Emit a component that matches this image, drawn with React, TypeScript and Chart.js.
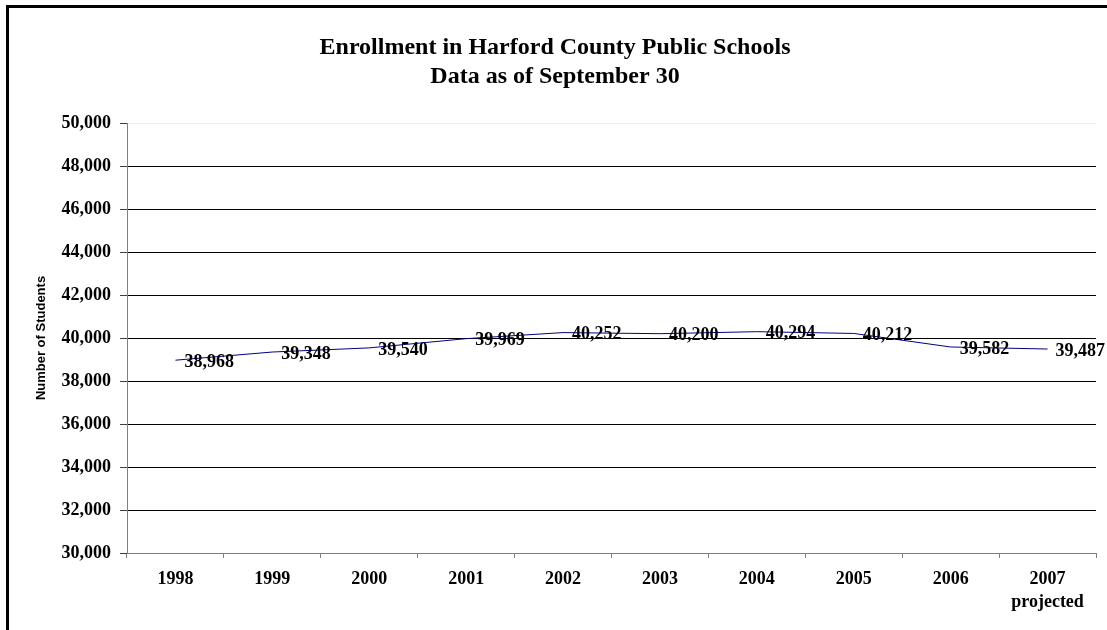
import React, { useEffect, useRef } from "react";
import { Chart, registerables } from "chart.js";

Chart.register(...registerables);

const titleLines = ["Enrollment in Harford County Public Schools", "Data as of September 30"];
const yAxisTitle = "Number of Students";
const categories: (string | string[])[] = ["1998", "1999", "2000", "2001", "2002", "2003", "2004", "2005", "2006", ["2007", "projected"]];
const enrollment = [38968, 39348, 39540, 39969, 40252, 40200, 40294, 40212, 39582, 39487];
const yMin = 30000;
const yMax = 50000;
const yStep = 2000;

const SERIF = "'Liberation Serif', 'Times New Roman', serif";

const dataLabelPlugin = {
  id: "dataLabels",
  afterDatasetsDraw(chart: any) {
    const ctx = chart.ctx;
    const meta = chart.getDatasetMeta(0);
    ctx.save();
    ctx.font = `bold 18px ${SERIF}`;
    ctx.fillStyle = "#000";
    ctx.textBaseline = "middle";
    ctx.textAlign = "left";
    meta.data.forEach((pt: any, i: number) => {
      const v = chart.data.datasets[0].data[i] as number;
      const txt = v.toLocaleString("en-US");
      const w = ctx.measureText(txt).width;
      let x = pt.x + 9;
      if (x + w > chart.width - 2) x = chart.width - 2 - w;
      ctx.fillText(txt, x, pt.y + 2);
    });
    ctx.restore();
  },
};

export default function App() {
  const ref = useRef<HTMLCanvasElement | null>(null);

  useEffect(() => {
    if (!ref.current) return;
    const chart = new Chart(ref.current, {
      type: "line",
      data: {
        labels: categories,
        datasets: [
          {
            data: enrollment,
            borderColor: "#000080",
            borderWidth: 1,
            pointRadius: 0,
            tension: 0,
            fill: false,
          },
        ],
      },
      options: {
        animation: false,
        responsive: false,
        maintainAspectRatio: false,
        layout: { padding: { left: 14, right: 11, top: 0, bottom: 0 } },
        plugins: {
          legend: { display: false },
          tooltip: { enabled: false },
          title: {
            display: true,
            text: titleLines,
            color: "#000",
            font: { family: SERIF, size: 24, weight: "bold", lineHeight: 29 / 24 },
            padding: { top: 33, bottom: 32 },
          },
        },
        scales: {
          x: {
            offset: true,
            grid: {
              display: true,
              drawOnChartArea: false,
              offset: true,
              tickLength: 5,
              color: "#808080",
            },
            border: { color: "#808080" },
            ticks: {
              color: "#000",
              font: { family: SERIF, size: 18, weight: "bold", lineHeight: 1.28 },
              padding: 10,
              maxRotation: 0,
              autoSkip: false,
            },
            afterFit: (s: any) => {
              s.height = 77;
            },
          },
          y: {
            min: yMin,
            max: yMax,
            ticks: {
              stepSize: yStep,
              color: "#000",
              font: { family: SERIF, size: 18, weight: "bold" },
              padding: 9,
              callback: (v: any) => Number(v).toLocaleString("en-US"),
            },
            grid: {
              tickLength: 7,
              color: (c: any) =>
                c.tick && c.tick.value === yMax ? "#eeeeee" : c.tick && c.tick.value === yMin ? "#808080" : "#000",
              tickColor: "#404040",
            },
            border: { color: "#808080" },
            title: {
              display: true,
              text: yAxisTitle,
              color: "#000",
              font: { family: "'Liberation Sans', Arial, sans-serif", size: 13, weight: "bold" },
              padding: { top: 20, bottom: 0 },
            },
            afterFit: (s: any) => {
              s.width = 113;
            },
          },
        },
      },
      plugins: [dataLabelPlugin],
    });
    return () => chart.destroy();
  }, []);

  return (
    <div style={{ position: "fixed", left: 0, top: 0, width: 1107, height: 630, background: "#fff", overflow: "hidden" }}>
      <canvas ref={ref} width={1107} height={630} style={{ display: "block", width: 1107, height: 630 }} />
      <div
        style={{
          position: "absolute",
          left: 6,
          top: 5,
          width: 1200,
          height: 700,
          borderLeft: "3px solid #000",
          borderTop: "3px solid #000",
          pointerEvents: "none",
        }}
      />
    </div>
  );
}
